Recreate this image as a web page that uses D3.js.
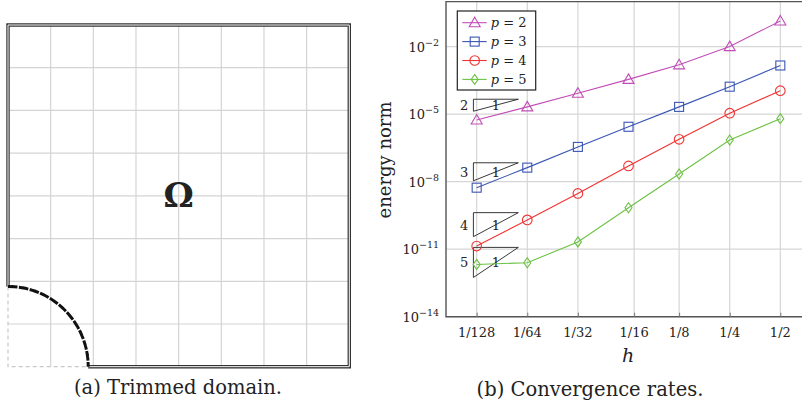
<!DOCTYPE html>
<html>
<head>
<meta charset="utf-8">
<script src="https://cdn.jsdelivr.net/npm/d3@7"></script>
<style>
  body { margin: 0; background: #fff; }
  text { font-family: "DejaVu Serif", serif; fill: #222; }
</style>
</head>
<body>
<div class="svg-canvas"></div>
<script>
// ---- data ----
var hValues = [1/128, 1/64, 1/32, 1/16, 1/8, 1/4, 1/2];
var errP2 = [5.5e-6, 2.1e-5, 8.5e-5, 3.5e-4, 1.55e-3, 1.0e-2, 1.38e-1];
var errP3 = [5.4e-9, 4.2e-8, 3.5e-7, 2.75e-6, 2.1e-5, 1.66e-4, 1.45e-3];
var errP4 = [1.38e-11, 2.0e-10, 3.0e-9, 5.0e-8, 7.6e-7, 1.1e-5, 1.1e-4];
var errP5 = [2.1e-12, 2.5e-12, 2.1e-11, 6.9e-10, 2.2e-8, 7.1e-7, 6.3e-6];
var seriesNames = ["p = 2", "p = 3", "p = 4", "p = 5"];

var xTickVals = [1/128, 1/64, 1/32, 0.0675, 1/8, 1/4, 1/2];
var xTickLabels = ["1/128", "1/64", "1/32", "1/16", "1/8", "1/4", "1/2"];
var yTickExps = [-14, -11, -8, -5, -2];

// reference slope triangles
var slopeOrders = [2, 3, 4, 5];
var slopeTop = [4.6e-5, 6.9e-8, 4.2e-10, 1.2e-11];
var slopeH = [0.00747, 0.01382];

// trimmed domain: 8x8 grid, trimmed circle radius in cells
var gridCells = 8;
var trimRadius = 1.88;

// ---- canvas ----
var W = 802, H = 408;
var svg = d3.select(".svg-canvas").append("svg")
    .attr("width", W)
    .attr("height", H);

// ===== (a) trimmed domain =====
var ax = d3.scaleLinear().domain([0, gridCells]).range([8, 349.3]);
var ay = d3.scaleLinear().domain([0, gridCells]).range([366.7, 25]);
var pa = svg.append("g");

pa.selectAll("line.gx")
    .data(d3.range(1, gridCells))
    .enter().append("line")
    .attr("x1", function(d){ return ax(d); })
    .attr("x2", function(d){ return ax(d); })
    .attr("y1", ay(0)).attr("y2", ay(gridCells))
    .attr("stroke", "#d4d4d4").attr("stroke-width", 1.2);
pa.selectAll("line.gy")
    .data(d3.range(1, gridCells))
    .enter().append("line")
    .attr("y1", function(d){ return ay(d); })
    .attr("y2", function(d){ return ay(d); })
    .attr("x1", ax(0)).attr("x2", ax(gridCells))
    .attr("stroke", "#d4d4d4").attr("stroke-width", 1.2);

// light dashed edges of the cut-away part
pa.append("path")
    .attr("d", d3.line()([[ax(0), ay(trimRadius)], [ax(0), ay(0)], [ax(trimRadius), ay(0)]]))
    .attr("fill", "none").attr("stroke", "#c8c8c8")
    .attr("stroke-width", 1.2).attr("stroke-dasharray", "4,3");

// double boundary
var bnd = d3.line()([[ax(0), ay(trimRadius)], [ax(0), ay(gridCells)], [ax(gridCells), ay(gridCells)],
                     [ax(gridCells), ay(0)], [ax(trimRadius), ay(0)]]);
pa.append("path").attr("d", bnd).attr("fill", "none")
    .attr("stroke", "#333").attr("stroke-width", 3.4);
pa.append("path").attr("d", bnd).attr("fill", "none")
    .attr("stroke", "#fff").attr("stroke-width", 1);

// trimming arc
var rpx = ax(trimRadius) - ax(0);
pa.append("path")
    .attr("d", d3.arc()({innerRadius: rpx, outerRadius: rpx, startAngle: 0, endAngle: Math.PI / 2}))
    .attr("transform", "translate(" + ax(0) + "," + ay(0) + ")")
    .attr("fill", "none").attr("stroke", "#111")
    .attr("stroke-width", 3).attr("stroke-dasharray", "6,5");

pa.append("text")
    .attr("x", ax(gridCells / 2)).attr("y", 207)
    .attr("text-anchor", "middle")
    .style("font-size", "34px").style("font-weight", "bold")
    .text("Ω");

svg.append("text")
    .attr("x", 178).attr("y", 394)
    .attr("text-anchor", "middle")
    .style("font-size", "19.5px")
    .text("(a) Trimmed domain.");

// ===== (b) convergence rates =====
var x = d3.scaleLog().base(2).domain([Math.pow(2, -7.606), Math.pow(2, -0.394)]).range([446, 811]);
var y = d3.scaleLog().domain([1e-14, 1]).range([316.7, 1.6]);
var pb = svg.append("g");

// grid
pb.selectAll("line.vx")
    .data(xTickVals)
    .enter().append("line")
    .attr("x1", function(d){ return x(d); })
    .attr("x2", function(d){ return x(d); })
    .attr("y1", y.range()[0]).attr("y2", y.range()[1])
    .attr("stroke", "#d6d6d6").attr("stroke-width", 1.2);
pb.selectAll("line.hy")
    .data(yTickExps)
    .enter().append("line")
    .attr("y1", function(d){ return y(Math.pow(10, d)); })
    .attr("y2", function(d){ return y(Math.pow(10, d)); })
    .attr("x1", x.range()[0]).attr("x2", W)
    .attr("stroke", "#d6d6d6").attr("stroke-width", 1.2);

// axis frame
pb.append("path")
    .attr("d", d3.line()([[W, y.range()[1]], [x.range()[0], y.range()[1]], [x.range()[0], y.range()[0]], [W, y.range()[0]]]))
    .attr("fill", "none").attr("stroke", "#555").attr("stroke-width", 1.4);

// axes with inward ticks
var xAxis = d3.axisTop(x).tickValues(xTickVals).tickSize(4)
    .tickFormat(function(d, i){ return ""; });
pb.append("g").attr("transform", "translate(0," + y.range()[0] + ")")
    .call(xAxis)
    .call(function(g){ g.select(".domain").remove(); g.selectAll("line").attr("stroke", "#777"); });

pb.selectAll("text.xt")
    .data(xTickVals)
    .enter().append("text")
    .attr("x", function(d){ return x(d); })
    .attr("y", 337)
    .attr("text-anchor", "middle")
    .style("font-size", "13px")
    .text(function(d, i){ return xTickLabels[i]; });

var yt = pb.selectAll("text.yt")
    .data(yTickExps)
    .enter().append("text")
    .attr("x", 439)
    .attr("y", function(d){ return y(Math.pow(10, d)) + 5; })
    .attr("text-anchor", "end")
    .style("font-size", "13px");
yt.append("tspan").text("10");
yt.append("tspan").attr("dy", -6).style("font-size", "9.5px")
    .text(function(d){ return "\u2212" + Math.abs(d); });

svg.append("text")
    .attr("transform", "translate(391,160) rotate(-90)")
    .attr("text-anchor", "middle")
    .style("font-size", "18px")
    .text("energy norm");

svg.append("text")
    .attr("x", 628).attr("y", 362)
    .attr("text-anchor", "middle")
    .style("font-size", "19px").style("font-style", "italic")
    .text("h");

svg.append("text")
    .attr("x", 590).attr("y", 396)
    .attr("text-anchor", "middle")
    .style("font-size", "19.5px")
    .text("(b) Convergence rates.");

// slope triangles
var tri = pb.selectAll("g.slope")
    .data(slopeOrders)
    .enter().append("g");
tri.append("path")
    .attr("d", function(p, i){
        var top = slopeTop[i];
        var bot = top / Math.pow(slopeH[1] / slopeH[0], p);
        return d3.line()([[x(slopeH[0]), y(top)], [x(slopeH[1]), y(top)], [x(slopeH[0]), y(bot)]]) + "Z";
    })
    .attr("fill", "none").attr("stroke", "#222").attr("stroke-width", 0.9);
tri.append("text")
    .attr("x", x(slopeH[0]) - 5)
    .attr("y", function(p, i){
        var top = slopeTop[i];
        var bot = top / Math.pow(slopeH[1] / slopeH[0], p);
        return (y(top) + y(bot)) / 2 + 5;
    })
    .attr("text-anchor", "end")
    .style("font-size", "13px")
    .text(function(p){ return p; });
tri.append("text")
    .attr("x", (x(slopeH[0]) + x(slopeH[1])) / 2)
    .attr("y", function(p, i){
        var top = slopeTop[i];
        var bot = top / Math.pow(slopeH[1] / slopeH[0], p);
        return (y(top) + y(bot)) / 2 + 5;
    })
    .attr("text-anchor", "middle")
    .style("font-size", "13px")
    .text("1");

// series
var series = [
    {name: seriesNames[0], vals: errP2, color: "#c24db8", sym: "triangle"},
    {name: seriesNames[1], vals: errP3, color: "#3a55b4", sym: "square"},
    {name: seriesNames[2], vals: errP4, color: "#f23232", sym: "circle"},
    {name: seriesNames[3], vals: errP5, color: "#6cc244", sym: "diamond"}
];

function marker(sel, sym, color) {
    if (sym === "triangle") {
        sel.append("path").attr("d", "M0,-5.5L5.5,4L-5.5,4Z");
    } else if (sym === "square") {
        sel.append("rect").attr("x", -4.5).attr("y", -4.5).attr("width", 9).attr("height", 9);
    } else if (sym === "circle") {
        sel.append("circle").attr("r", 4.8);
    } else {
        sel.append("path").attr("d", "M0,-5L3.5,0L0,5L-3.5,0Z");
    }
    sel.selectAll("*").attr("fill", "none").attr("stroke", color).attr("stroke-width", 1.1);
}

var lineGen = d3.line()
    .x(function(d){ return x(d[0]); })
    .y(function(d){ return y(d[1]); });

series.forEach(function(s){
    var pts = hValues.map(function(h, i){ return [h, s.vals[i]]; });
    pb.append("path")
        .attr("d", lineGen(pts))
        .attr("fill", "none").attr("stroke", s.color).attr("stroke-width", 1.1);
    pb.selectAll(null)
        .data(pts)
        .enter().append("g")
        .attr("transform", function(d){ return "translate(" + x(d[0]) + "," + y(d[1]) + ")"; })
        .each(function(){ marker(d3.select(this), s.sym, s.color); });
});

// legend
var lg = svg.append("g").attr("transform", "translate(457.3,11)");
lg.append("rect").attr("width", 78.4).attr("height", 79)
    .attr("fill", "#fff").attr("stroke", "#222").attr("stroke-width", 1.2);
series.forEach(function(s, i){
    var row = lg.append("g").attr("transform", "translate(0," + (11.7 + i * 18.9) + ")");
    row.append("line").attr("x1", 5).attr("x2", 29.4)
        .attr("stroke", s.color).attr("stroke-width", 1.1);
    marker(row.append("g").attr("transform", "translate(17.4,0)"), s.sym, s.color);
    var t = row.append("text").attr("x", 33.4).attr("y", 4.6).style("font-size", "13px");
    t.append("tspan").style("font-style", "italic").text("p");
    t.append("tspan").text(" = " + s.name.split("= ")[1]);
});
</script>
</body>
</html>
